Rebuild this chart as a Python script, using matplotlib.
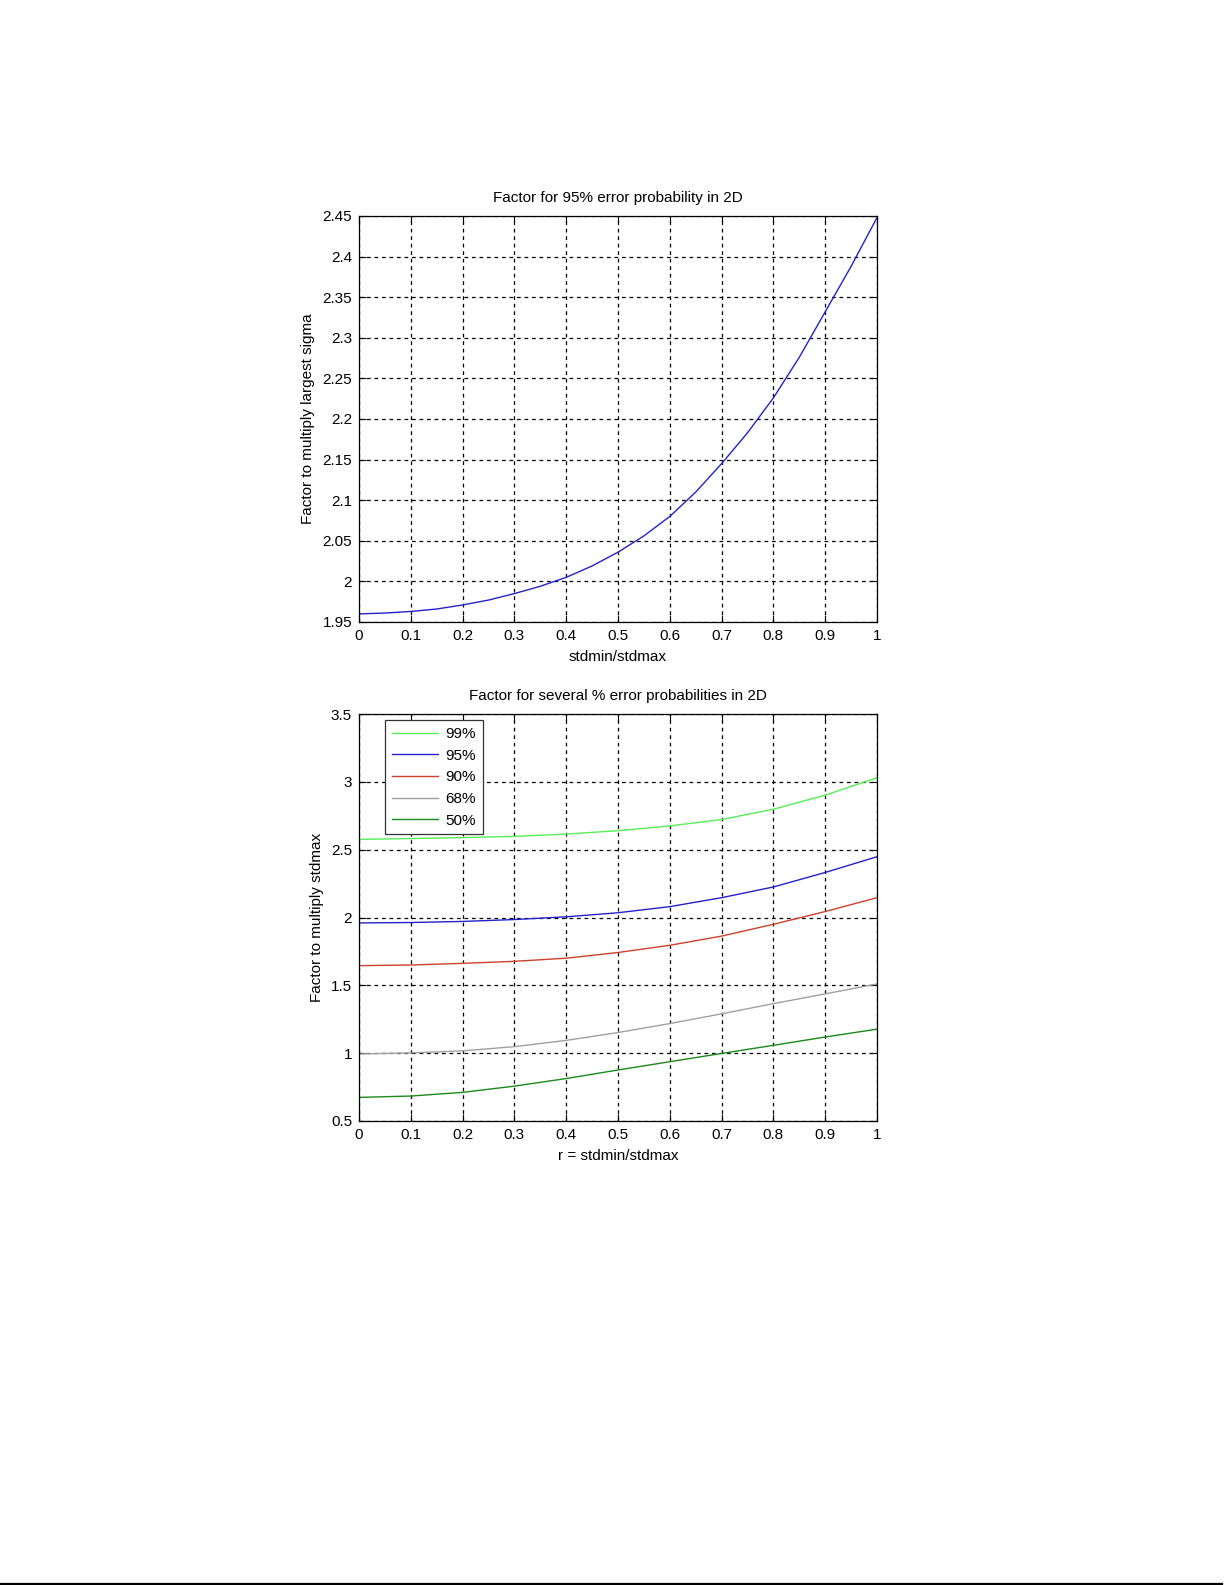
import numpy as np
import matplotlib.pyplot as plt
from matplotlib.lines import Line2D

plt.rcParams['font.family'] = ['Liberation Sans', 'DejaVu Sans']

# ratio stdmin/stdmax for the top panel
r_top = [0.0, 0.05, 0.1, 0.15, 0.2, 0.25, 0.3, 0.35, 0.4, 0.45, 0.5,
         0.55, 0.6, 0.65, 0.7, 0.75, 0.8, 0.85, 0.9, 0.95, 1.0]
factor_95_top = [1.960, 1.961, 1.963, 1.966, 1.971, 1.977, 1.985, 1.994, 2.005, 2.019, 2.036,
                 2.056, 2.080, 2.110, 2.145, 2.183, 2.226, 2.276, 2.332, 2.388, 2.448]

# bottom panel, several probabilities
r_bot = [0.0, 0.1, 0.2, 0.3, 0.4, 0.5, 0.6, 0.7, 0.8, 0.9, 1.0]
factor_99 = [2.576, 2.582, 2.589, 2.598, 2.615, 2.640, 2.675, 2.722, 2.798, 2.902, 3.030]
factor_95 = [1.960, 1.963, 1.971, 1.985, 2.005, 2.035, 2.080, 2.146, 2.225, 2.332, 2.448]
factor_90 = [1.645, 1.650, 1.662, 1.677, 1.700, 1.742, 1.795, 1.863, 1.950, 2.044, 2.146]
factor_68 = [0.994, 1.002, 1.017, 1.048, 1.094, 1.152, 1.218, 1.290, 1.365, 1.437, 1.510]
factor_50 = [0.674, 0.684, 0.711, 0.757, 0.813, 0.876, 0.937, 0.998, 1.058, 1.119, 1.177]
labels = ['99%', '95%', '90%', '68%', '50%']
colors = ['#55ee55', '#2222cc', '#d0402c', '#a0a0a0', '#1a8a1a']

x_ticks = [0, 0.1, 0.2, 0.3, 0.4, 0.5, 0.6, 0.7, 0.8, 0.9, 1]
x_ticklabels = ['0', '0.1', '0.2', '0.3', '0.4', '0.5', '0.6', '0.7', '0.8', '0.9', '1']
y_ticks_top = [1.95, 2.0, 2.05, 2.1, 2.15, 2.2, 2.25, 2.3, 2.35, 2.4, 2.45]
y_ticklabels_top = ['1.95', '2', '2.05', '2.1', '2.15', '2.2', '2.25', '2.3', '2.35', '2.4', '2.45']
y_ticks_bot = [0.5, 1, 1.5, 2, 2.5, 3, 3.5]
y_ticklabels_bot = ['0.5', '1', '1.5', '2', '2.5', '3', '3.5']

FS = 11


def style_axes(ax):
    # matlab-ish look: box, inward ticks on all sides, dashed black grid
    ax.tick_params(direction='in', top=True, right=True, length=5, width=0.8,
                   labelsize=FS, pad=5)
    ax.grid(True, color='black', linestyle=(0, (3, 3)), linewidth=0.9)
    for s in ax.spines.values():
        s.set_linewidth(0.9)


fig = plt.figure(figsize=(12.25, 15.85), dpi=100)

ax1 = fig.add_axes([359 / 1225, 1 - 622 / 1585, 518 / 1225, 406 / 1585])
ax1.plot(r_top, factor_95_top, color='#2222cc', linewidth=1.0)
ax1.set_xlim(0, 1)
ax1.set_ylim(1.95, 2.45)
ax1.set_xticks(x_ticks)
ax1.set_xticklabels(x_ticklabels)
ax1.set_yticks(y_ticks_top)
ax1.set_yticklabels(y_ticklabels_top)
style_axes(ax1)
ax1.set_title('Factor for 95% error probability in 2D', fontsize=FS, pad=10)
ax1.set_xlabel('stdmin/stdmax', fontsize=FS, labelpad=5)
ax1.set_ylabel('Factor to multiply largest sigma', fontsize=FS, labelpad=5)

ax2 = fig.add_axes([359 / 1225, 1 - 1121 / 1585, 518 / 1225, 407 / 1585])
for vals, lab, col in zip([factor_99, factor_95, factor_90, factor_68, factor_50], labels, colors):
    ax2.plot(r_bot, vals, color=col, linewidth=1.0, label=lab)
ax2.set_xlim(0, 1)
ax2.set_ylim(0.5, 3.5)
ax2.set_xticks(x_ticks)
ax2.set_xticklabels(x_ticklabels)
ax2.set_yticks(y_ticks_bot)
ax2.set_yticklabels(y_ticklabels_bot)
style_axes(ax2)
ax2.set_title('Factor for several % error probabilities in 2D', fontsize=FS, pad=10)
ax2.set_xlabel('r = stdmin/stdmax', fontsize=FS, labelpad=5)
ax2.set_ylabel('Factor to multiply stdmax', fontsize=FS, labelpad=5)
leg = ax2.legend(loc='upper left', bbox_to_anchor=(0.05, 0.985), fontsize=FS,
                 frameon=True, fancybox=False, framealpha=1, edgecolor='#333333',
                 handlelength=3.0, handletextpad=0.5, labelspacing=0.5,
                 borderpad=0.45, borderaxespad=0)
leg.get_frame().set_linewidth(0.9)

# page edge line at the very bottom
fig.add_artist(Line2D([0, 1222 / 1225], [1.2 / 1585, 1.2 / 1585], color='black',
                      linewidth=1.6, transform=fig.transFigure))

fig.savefig('out.png', dpi=100, facecolor='white')
